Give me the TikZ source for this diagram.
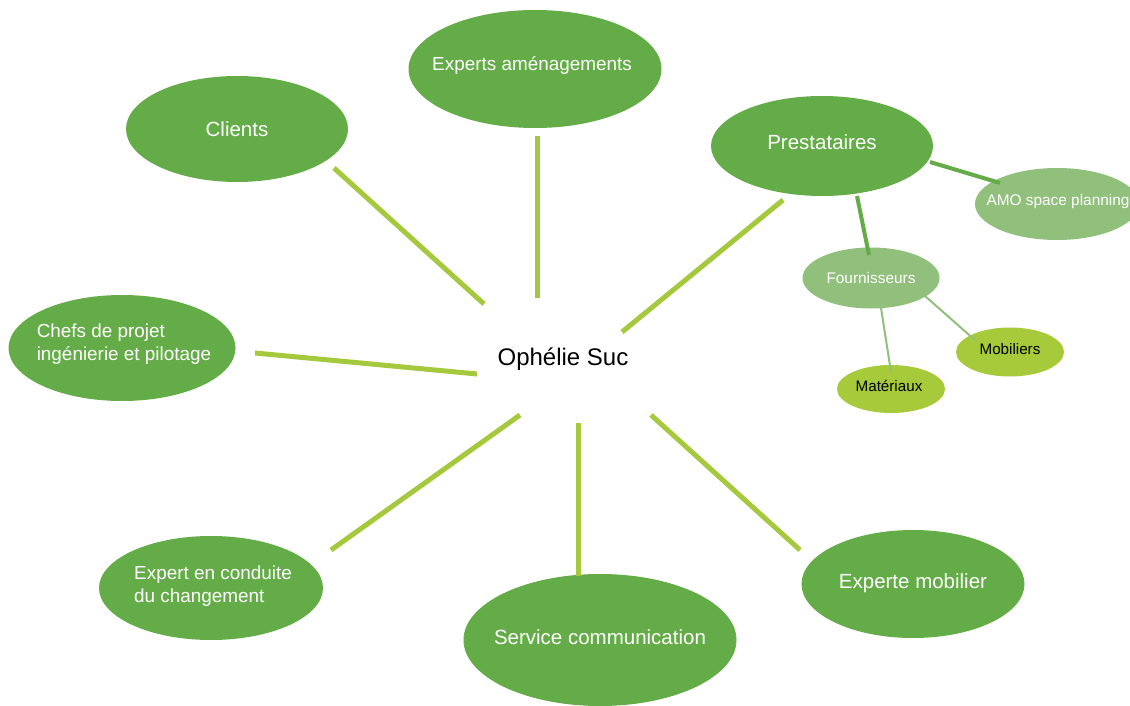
\documentclass[tikz,border=0pt]{standalone}
\usepackage{fontspec}
\setmainfont{Liberation Sans}
\usetikzlibrary{shapes.geometric}
\definecolor{mainfill}{HTML}{64AC47}
\definecolor{lightfill}{HTML}{90C07B}
\definecolor{limefill}{HTML}{A6CA3A}
\definecolor{spoke}{HTML}{A5C93C}
\tikzset{
  bigtxt/.style={text=white, inner sep=0pt, font=\fontsize{20.5}{23}\selectfont},
  midtxt/.style={text=white, inner sep=0pt, font=\fontsize{18.9}{22.5}\selectfont},
  smalltxt/.style={text=white, inner sep=0pt, font=\fontsize{15.4}{18}\selectfont},
  smalldark/.style={text=black, inner sep=0pt, font=\fontsize{15.2}{18}\selectfont},
  bigell/.style={ellipse, fill=mainfill, draw=none, inner sep=0pt},
  lightell/.style={ellipse, fill=lightfill, draw=none, inner sep=0pt},
  limeell/.style={ellipse, fill=limefill, draw=none, inner sep=0pt},
  spokeline/.style={draw=spoke, line width=5pt},
  subline/.style={draw=mainfill, line width=4pt},
  thinline/.style={draw=lightfill, line width=2pt},
}
\begin{document}
\begin{tikzpicture}[x=1pt,y=-1pt]
\useasboundingbox (0,0) rectangle (1130,706);
\fill[white] (0,0) rectangle (1130,706);
% center
\node[font=\fontsize{24}{28}\selectfont, text=black] (center) at (563,359) {Ophélie Suc};
% main ellipses
\node[bigell, minimum width=222pt, minimum height=106pt,
  label={[bigtxt]center:Clients}] (clients) at (237,129) {};
\node[bigell, minimum width=253pt, minimum height=118pt,
  label={[midtxt, xshift=-3pt, yshift=3pt]center:Experts aménagements}] (experts) at (535,69) {};
\node[bigell, minimum width=222pt, minimum height=100pt,
  label={[bigtxt, yshift=4pt]center:Prestataires}] (prest) at (822,146) {};
\node[bigell, minimum width=227pt, minimum height=106pt,
  label={[midtxt, align=left, xshift=2pt, yshift=4pt]center:Chefs de projet\\ingénierie et pilotage}] (chefs) at (122,348) {};
\node[bigell, minimum width=224pt, minimum height=104pt,
  label={[midtxt, align=left, xshift=2pt, yshift=2pt]center:Expert en conduite\\du changement}] (conduite) at (211,588) {};
\node[bigell, minimum width=273pt, minimum height=132pt,
  label={[bigtxt, yshift=3pt]center:Service communication}] (service) at (600,640) {};
\node[bigell, minimum width=223pt, minimum height=108pt,
  label={[bigtxt, yshift=1pt]center:Experte mobilier}] (mobilier) at (913,584) {};
% sub ellipses
\node[lightell, minimum width=164pt, minimum height=72pt,
  label={[smalltxt, xshift=1pt, yshift=2pt]center:AMO space planning}] (amo) at (1057,204) {};
\node[lightell, minimum width=137pt, minimum height=61pt,
  label={[smalltxt]center:Fournisseurs}] (fourn) at (871,278) {};
\node[limeell, minimum width=108pt, minimum height=49pt,
  label={[smalldark, yshift=3pt]center:Mobiliers}] (mobiliers) at (1010,352) {};
\node[limeell, minimum width=108pt, minimum height=48pt,
  label={[smalldark, xshift=-2pt, yshift=3pt]center:Matériaux}] (materiaux) at (891,389) {};
% spoke end coordinates
\coordinate (c1a) at (334,168); \coordinate (c1b) at (484,304);
\coordinate (c2a) at (537,136); \coordinate (c2b) at (537,298);
\coordinate (c3a) at (783,200); \coordinate (c3b) at (622,332);
\coordinate (c4a) at (255,353); \coordinate (c4b) at (477,374);
\coordinate (c5a) at (331,550); \coordinate (c5b) at (520,415);
\coordinate (c6a) at (578,423); \coordinate (c6b) at (578,576);
\coordinate (c7a) at (651,415); \coordinate (c7b) at (800,550);
\draw[spokeline] (c1a) -- (c1b);
\draw[spokeline] (c2a) -- (c2b);
\draw[spokeline] (c3a) -- (c3b);
\draw[spokeline] (c4a) -- (c4b);
\draw[spokeline] (c5a) -- (c5b);
\draw[spokeline] (c6a) -- (c6b);
\draw[spokeline] (c7a) -- (c7b);
% sub connectors
\coordinate (s1a) at (930,162); \coordinate (s1b) at (1000,183);
\coordinate (s2a) at (857,196); \coordinate (s2b) at (869,255);
\coordinate (s3a) at (925,296); \coordinate (s3b) at (976,341);
\coordinate (s4a) at (881,308); \coordinate (s4b) at (891,372);
\draw[subline] (s1a) -- (s1b);
\draw[subline] (s2a) -- (s2b);
\draw[thinline] (s3a) -- (s3b);
\draw[thinline] (s4a) -- (s4b);
\end{tikzpicture}
\end{document}
